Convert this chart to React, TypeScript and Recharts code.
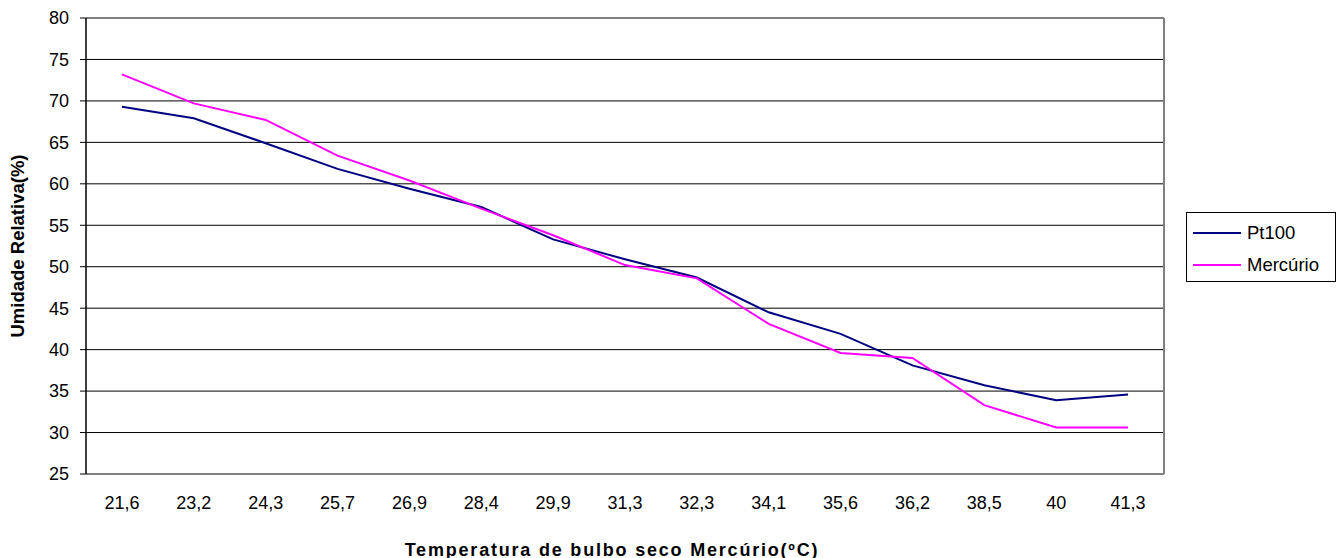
import { LineChart, Line, XAxis, YAxis, CartesianGrid, ReferenceLine, Legend, Label } from 'recharts'

// Temperatura de bulbo seco (Mercúrio), ºC
const categories = ['21,6', '23,2', '24,3', '25,7', '26,9', '28,4', '29,9', '31,3', '32,3', '34,1', '35,6', '36,2', '38,5', '40', '41,3']
// Umidade relativa (%) medida por cada sensor
const pt100 = [69.3, 67.9, 64.9, 61.8, 59.4, 57.2, 53.3, 50.9, 48.7, 44.5, 41.9, 38.1, 35.7, 33.9, 34.6]
const mercurio = [73.2, 69.7, 67.7, 63.4, 60.4, 57.0, 53.8, 50.2, 48.6, 43.1, 39.6, 39.0, 33.3, 30.6, 30.6]
const yTicks = [25, 30, 35, 40, 45, 50, 55, 60, 65, 70, 75, 80]

const SERIES = [
  { key: 'pt100', name: 'Pt100', color: '#000080' },
  { key: 'mercurio', name: 'Mercúrio', color: '#FF00FF' },
]

const FONT = '"Liberation Sans", Arial, sans-serif'

// each category sits in the middle of its slot: x = i + 0.5
const data = categories.map((c, i) => ({ pos: i + 0.5, label: c, pt100: pt100[i], mercurio: mercurio[i] }))
const slotTicks = categories.map((_, i) => i + 0.5)
const borderTicks = [...categories.map((_, i) => i), categories.length]

function LegendBox() {
  return (
    <div style={{
      border: '1px solid #000', width: 150, height: 70, boxSizing: 'border-box',
      background: '#fff', fontFamily: FONT, fontSize: 18.5, color: '#000', paddingTop: 4,
    }}>
      {SERIES.map(s => (
        <div key={s.key} style={{ display: 'flex', alignItems: 'center', height: 32 }}>
          <span style={{ display: 'inline-block', width: 48, height: 2, background: s.color, marginLeft: 6, marginRight: 6 }} />
          <span>{s.name}</span>
        </div>
      ))}
    </div>
  )
}

export default function App() {
  return (
    <div style={{ position: 'absolute', left: 0, top: 0, background: '#fff' }}>
      <LineChart width={1343} height={558} data={data} margin={{ top: 18, right: 29, bottom: 0, left: 0 }}>
        <CartesianGrid xAxisId="cat" vertical={false} stroke="#000" strokeWidth={1} />
        {/* tick marks between categories */}
        <XAxis
          xAxisId="frame"
          type="number"
          dataKey="pos"
          domain={[0, categories.length]}
          ticks={borderTicks}
          interval={0}
          tickFormatter={() => ''}
          tickSize={6}
          height={0}
          stroke="#000"
          axisLine={{ stroke: '#000', strokeWidth: 1.5 }}
          tickLine={{ stroke: '#000' }}
        />
        <XAxis
          xAxisId="cat"
          type="number"
          dataKey="pos"
          domain={[0, categories.length]}
          ticks={slotTicks}
          interval={0}
          tickFormatter={v => categories[Math.floor(v)]}
          axisLine={false}
          tickLine={false}
          tickSize={0}
          tickMargin={22}
          height={84}
          tick={{ fontSize: 18, fill: '#000', fontFamily: FONT }}
        >
          <Label
            content={({ viewBox }: any) => (
              <text
                x={viewBox.x + viewBox.width / 2 - 13}
                y={viewBox.y + viewBox.height - 2.5}
                textAnchor="middle"
                fontFamily={FONT}
                fontWeight="bold"
                fontSize={18}
                letterSpacing={1.8}
                fill="#000"
              >
                Temperatura de bulbo seco Mercúrio(ºC)
              </text>
            )}
          />
        </XAxis>
        <YAxis
          type="number"
          domain={[25, 80]}
          ticks={yTicks}
          interval={0}
          width={86}
          tickSize={6}
          tickMargin={11}
          axisLine={{ stroke: '#000', strokeWidth: 1.5 }}
          tickLine={{ stroke: '#000' }}
          tick={{ fontSize: 18, fill: '#000', fontFamily: FONT }}
        >
          <Label
            content={({ viewBox }: any) => {
              const cy = viewBox.y + viewBox.height / 2
              return (
                <text
                  x={24}
                  y={cy}
                  transform={`rotate(-90, 24, ${cy})`}
                  textAnchor="middle"
                  fontFamily={FONT}
                  fontWeight="bold"
                  fontSize={18.5}
                  fill="#000"
                >
                  Umidade Relativa(%)
                </text>
              )
            }}
          />
        </YAxis>
        {/* plot area frame: grey top and right edges */}
        <ReferenceLine xAxisId="frame" y={80} stroke="#808080" strokeWidth={1.5} />
        <ReferenceLine xAxisId="frame" x={categories.length} stroke="#808080" strokeWidth={2} />
        <Legend
          layout="vertical"
          align="right"
          verticalAlign="middle"
          width={150}
          height={70}
          wrapperStyle={{ right: 7, top: 212 }}
          content={() => <LegendBox />}
        />
        {SERIES.map(s => (
          <Line
            key={s.key}
            xAxisId="cat"
            type="linear"
            dataKey={s.key}
            name={s.name}
            stroke={s.color}
            strokeWidth={2}
            dot={false}
            activeDot={false}
            isAnimationActive={false}
          />
        ))}
      </LineChart>
    </div>
  )
}
